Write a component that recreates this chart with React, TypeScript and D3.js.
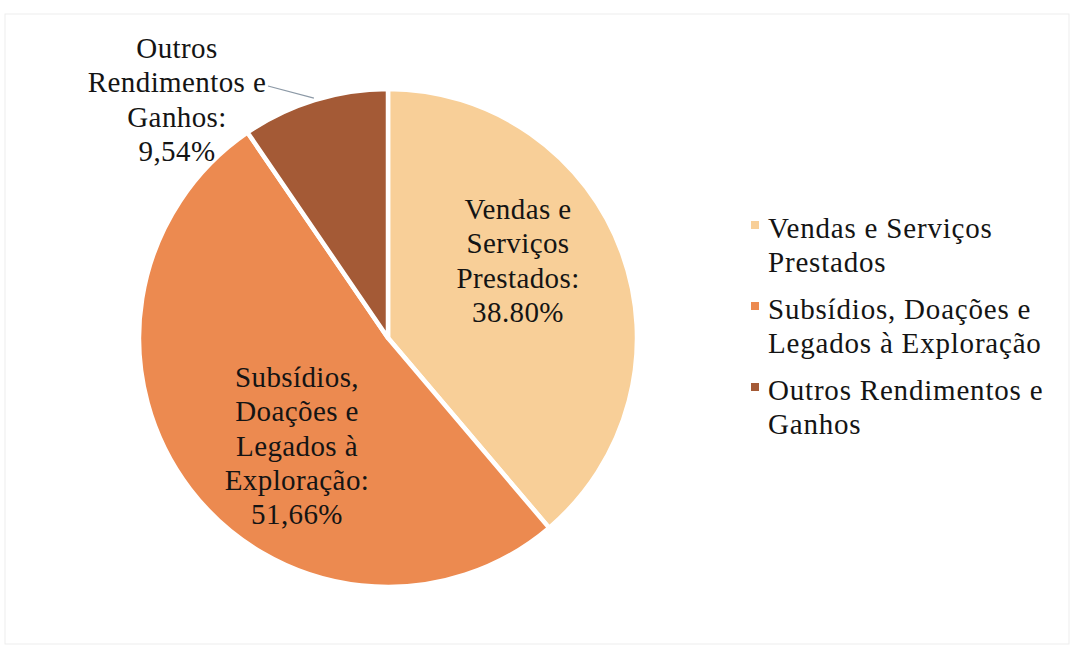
import React from "react";
import * as d3 from "d3";

const categories = [
  "Vendas e Serviços Prestados",
  "Subsídios, Doações e Legados à Exploração",
  "Outros Rendimentos e Ganhos",
];
const values = [38.8, 51.66, 9.54];
const valueLabels = ["38.80%", "51,66%", "9,54%"];
const sliceLabelLines = [
  ["Vendas e", "Serviços", "Prestados:"],
  ["Subsídios,", "Doações e", "Legados à", "Exploração:"],
  ["Outros", "Rendimentos e", "Ganhos:"],
];
const legendLines = [
  ["Vendas e Serviços", "Prestados"],
  ["Subsídios, Doações e", "Legados à Exploração"],
  ["Outros Rendimentos e", "Ganhos"],
];
const colors = ["#F8CF98", "#EC8A50", "#A45A36"];

const W = 1092;
const H = 655;
const cx = 388;
const cy = 338;
const R = 249;
const FONT = "'Liberation Serif', 'Times New Roman', serif";
const FS = 29;
const LH = 34.3;
// label anchor (center x, first baseline y)
const labelAnchors = [
  { x: 518, y: 219 },
  { x: 297, y: 387 },
  { x: 177, y: 58 },
];

export default function App() {
  const pie = d3.pie<number>().sort(null).value((d) => d);
  const arcs = pie(values);
  const arcGen = d3.arc<d3.PieArcDatum<number>>().innerRadius(0).outerRadius(R);

  // leader line for the small slice: from label to the slice edge at mid angle
  const outros = arcs[2];
  const midA = (outros.startAngle + outros.endAngle) / 2;
  const ex = cx + (R + 2) * Math.sin(midA);
  const ey = cy - (R + 2) * Math.cos(midA);

  return (
    <svg
      width={W}
      height={H}
      style={{ position: "absolute", left: 0, top: 0, background: "#fff" }}
      fontFamily={FONT}
    >
      <rect x={5} y={14} width={1064} height={630} fill="none" stroke="#ededed" strokeWidth={1} />
      <g transform={`translate(${cx},${cy})`}>
        {arcs.map((a, i) => (
          <path key={i} d={arcGen(a) || ""} fill={colors[i]} stroke="#fff" strokeWidth={4.5} strokeLinejoin="round" />
        ))}
      </g>
      <line x1={268} y1={86} x2={ex} y2={ey} stroke="#8c99a6" strokeWidth={1.2} />
      {sliceLabelLines.map((lines, i) => {
        const all = [...lines, valueLabels[i]];
        return (
          <text
            key={i}
            x={labelAnchors[i].x}
            y={labelAnchors[i].y}
            textAnchor="middle"
            fontSize={FS}
            fill="#141414"
            letterSpacing={0.4}
          >
            {all.map((t, j) => (
              <tspan key={j} x={labelAnchors[i].x} y={labelAnchors[i].y + j * LH}>
                {t}
              </tspan>
            ))}
          </text>
        );
      })}
      {legendLines.map((lines, i) => {
        const by = 238 + i * 81;
        return (
          <g key={i}>
            <rect x={751} y={by - 17} width={8} height={8} fill={colors[i]} />
            <text x={768} y={by} fontSize={FS} fill="#141414" letterSpacing={0.8}>
              {lines.map((t, j) => (
                <tspan key={j} x={768} y={by + j * 34}>
                  {t}
                </tspan>
              ))}
            </text>
          </g>
        );
      })}
      <title>{categories.join(", ")}</title>
    </svg>
  );
}
